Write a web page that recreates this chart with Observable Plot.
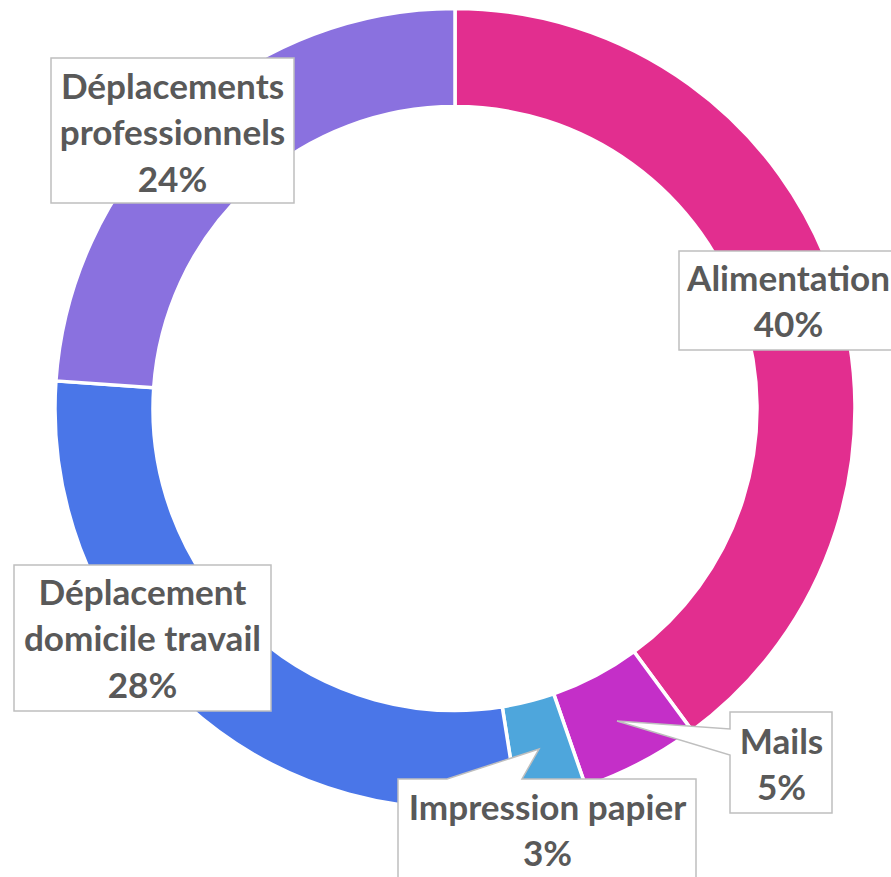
<!DOCTYPE html>
<html><head><meta charset="utf-8">
<script src="https://cdn.jsdelivr.net/npm/d3@7"></script>
<script src="https://cdn.jsdelivr.net/npm/@observablehq/plot@0.6"></script>
<style>
html,body{margin:0;padding:0;background:#fff;overflow:hidden;}
</style></head>
<body><div id="chart"></div>
<script>
// ---- data ----
const categories = ["Alimentation","Mails","Impression papier","Déplacement domicile travail","Déplacements professionnels"];
const values = [39.9, 4.8, 2.8, 28.6, 23.9];
const colors = ["#E22E8F","#C42FC8","#4EA6DC","#4A76E8","#8A71DF"];
const labelLines = [["Alimentation","40%"],["Mails","5%"],["Impression papier","3%"],["Déplacement","domicile travail","28%"],["Déplacements","professionnels","24%"]];

// ---- layout (pixels) ----
const W = 891, H = 877;
const cx = 455, cy = 408.5, R = 400, r0 = 302;
const boxes = [
  {x1:679, x2:905, y1:251, y2:350, tx:788, ty:279},
  {x1:730, x2:832, y1:712, y2:813, tx:781, ty:742, ptr:{side:"left", a:729, b:755, tip:[617,721]}},
  {x1:398, x2:696, y1:779, y2:900, tx:547, ty:808, ptr:{side:"top", a:447, b:522, tip:[539,749]}},
  {x1:14, x2:271, y1:565, y2:711, tx:142, ty:593},
  {x1:51, x2:294, y1:58, y2:203, tx:172, ty:87}
];
const lineGap = 46.5;

// font size: fit "Alimentation" to ~203px
const ctx = document.createElement("canvas").getContext("2d");
ctx.font = "bold 100px Lato";
const fs = 100 * 203 / ctx.measureText("Alimentation").width;

const pie = d3.pie().sort(null).value(d => d.value)(categories.map((c,i)=>({cat:c, value:values[i], color:colors[i]})));
const arcs = pie.map(p => ({...p.data, startAngle:p.startAngle, endAngle:p.endAngle}));

function slicesMark(data) {
  return (index, scales) => {
    const g = d3.create("svg:g");
    const X = scales.x, Y = scales.y;
    const ox = X(cx), oy = Y(cy);
    const arc = d3.arc().innerRadius(X(cx + r0) - ox).outerRadius(X(cx + R) - ox);
    g.selectAll("path").data(data).join("path")
      .attr("transform", `translate(${ox},${oy})`)
      .attr("d", d => arc(d))
      .attr("fill", d => d.color)
      .attr("stroke", "#fff").attr("stroke-width", 3.5).attr("stroke-linejoin","miter");
    return g.node();
  };
}

function boxesMark(data) {
  return (index, scales) => {
    const X = scales.x, Y = scales.y;
    const g = d3.create("svg:g");
    g.selectAll("path").data(data).join("path")
      .attr("d", b => {
        const x1=X(b.x1), x2=X(b.x2), y1=Y(b.y1), y2=Y(b.y2);
        if (b.ptr && b.ptr.side === "left") {
          return `M${x1},${y1}H${x2}V${y2}H${x1}V${Y(b.ptr.b)}L${X(b.ptr.tip[0])},${Y(b.ptr.tip[1])}L${x1},${Y(b.ptr.a)}Z`;
        } else if (b.ptr && b.ptr.side === "top") {
          return `M${x1},${y1}H${X(b.ptr.a)}L${X(b.ptr.tip[0])},${Y(b.ptr.tip[1])}L${X(b.ptr.b)},${y1}H${x2}V${y2}H${x1}Z`;
        }
        return `M${x1},${y1}H${x2}V${y2}H${x1}Z`;
      })
      .attr("fill", "#fff").attr("stroke", "#BFBFBF").attr("stroke-width", 1.5);
    return g.node();
  };
}

const textRows = [];
labelLines.forEach((lines, i) => lines.forEach((t, j) => textRows.push({t, x: boxes[i].tx, y: boxes[i].ty + j*lineGap})));

const chart = Plot.plot({
  width: W, height: H,
  margin: 0,
  x: {domain: [0, W], range: [0, W], axis: null},
  y: {domain: [0, H], range: [0, H], axis: null},
  style: {background: "#fff"},
  marks: [
    slicesMark(arcs),
    boxesMark(boxes),
    Plot.text(textRows, {x:"x", y:"y", text:"t", fontSize: fs, fontWeight: "bold", fontFamily: "Lato, 'Open Sans', sans-serif", fill: "#595959", textAnchor: "middle", lineAnchor: "middle"})
  ]
});
document.getElementById("chart").appendChild(chart);
</script>
</body></html>
